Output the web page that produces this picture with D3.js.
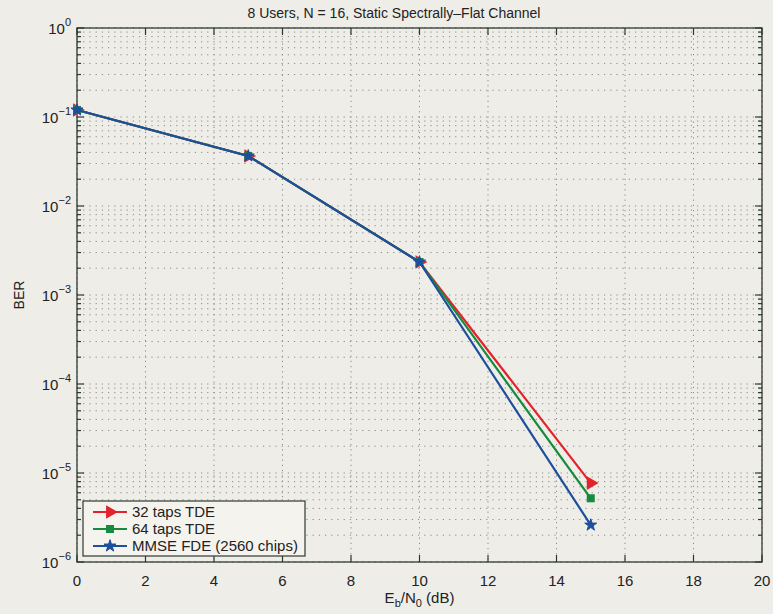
<!DOCTYPE html>
<meta charset="utf-8">
<style>
body { margin: 0; background: #efede8; }
svg { font-family: "Liberation Sans", Arial, sans-serif; }
.grid line { stroke: #8a8a8a; stroke-width: 1; stroke-dasharray: 1.2,5; }
</style>
<body>
<svg width="773" height="614"></svg>
<script src="https://d3js.org/d3.v7.min.js"></script>
<script>
// data
var ebno = [0, 5, 10, 15];
var ber32 = [0.12, 0.0365, 0.00235, 7.7e-6];
var ber64 = [0.12, 0.0365, 0.00235, 5.2e-6];
var berFde = [0.12, 0.0365, 0.00235, 2.6e-6];
var xTicks = [0, 2, 4, 6, 8, 10, 12, 14, 16, 18, 20];
var yExps = [0, -1, -2, -3, -4, -5, -6];

var series = [
  {name: "32 taps TDE", values: ber32, color: "#e3232b", marker: "tri"},
  {name: "64 taps TDE", values: ber64, color: "#168a3e", marker: "sq"},
  {name: "MMSE FDE (2560 chips)", values: berFde, color: "#1d4f9c", marker: "star"}
];

var svg = d3.select("svg"),
    margin = {top: 28, right: 11, bottom: 52, left: 77},
    width = +svg.attr("width") - margin.left - margin.right,
    height = +svg.attr("height") - margin.top - margin.bottom;

var x = d3.scaleLinear().domain([0, 20]).range([0, width]),
    y = d3.scaleLog().domain([1e-6, 1]).range([height, 0]);

var g = svg.append("g")
    .attr("transform", "translate(" + margin.left + "," + margin.top + ")");

// minor log positions
var minor = [];
yExps.slice(0, -1).forEach(function(e) {
  for (var k = 1; k <= 9; k++) minor.push(k * Math.pow(10, e - 1));
});
minor.push(1);

// grid
var grid = g.append("g").attr("class", "grid");
grid.selectAll(".gy").data(minor).enter().append("line")
    .attr("x1", 0).attr("x2", width)
    .attr("y1", function(d) { return y(d); })
    .attr("y2", function(d) { return y(d); });
grid.selectAll(".gx").data(xTicks).enter().append("line")
    .attr("y1", 0).attr("y2", height)
    .attr("x1", function(d) { return x(d); })
    .attr("x2", function(d) { return x(d); })
    .style("stroke-dasharray", "1.2,4");

// frame
g.append("rect").attr("width", width).attr("height", height)
    .attr("fill", "none").attr("stroke", "#2b3a30").attr("stroke-width", 1.3);

// ticks inward
var tk = g.append("g").attr("stroke", "#2b3a30").attr("stroke-width", 1.2);
xTicks.forEach(function(d) {
  tk.append("line").attr("x1", x(d)).attr("x2", x(d)).attr("y1", height).attr("y2", height - 7);
  tk.append("line").attr("x1", x(d)).attr("x2", x(d)).attr("y1", 0).attr("y2", 7);
});
minor.forEach(function(d) {
  var isMajor = Math.abs(Math.log10(d) - Math.round(Math.log10(d))) < 1e-9;
  var len = isMajor ? 7 : 4;
  tk.append("line").attr("x1", 0).attr("x2", len).attr("y1", y(d)).attr("y2", y(d));
  tk.append("line").attr("x1", width).attr("x2", width - len).attr("y1", y(d)).attr("y2", y(d));
});

// x tick labels
g.append("g").selectAll("text").data(xTicks).enter().append("text")
    .attr("x", function(d) { return x(d); })
    .attr("y", height + 24)
    .attr("text-anchor", "middle")
    .style("font-size", "15px").attr("fill", "#222")
    .text(function(d) { return d; });

// y tick labels 10^e
var yl = g.append("g").selectAll("text").data(yExps).enter().append("text")
    .attr("x", -6)
    .attr("y", function(d) { return y(Math.pow(10, d)) + 6; })
    .attr("text-anchor", "end")
    .style("font-size", "15px").attr("fill", "#222");
yl.append("tspan").text("10");
yl.append("tspan").attr("dy", -8).style("font-size", "11px")
    .text(function(d) { return d === 0 ? "0" : "\u2212" + (-d); });

// lines
var line = d3.line()
    .x(function(d, i) { return x(ebno[i]); })
    .y(function(d) { return y(d); });

function marker(sel, type, color) {
  if (type === "tri") {
    sel.append("path").attr("d", d3.symbol(d3.symbolTriangle, 80)())
      .attr("transform", "rotate(90)").attr("fill", color);
  } else if (type === "sq") {
    sel.append("path").attr("d", d3.symbol(d3.symbolSquare, 64)()).attr("fill", color);
  } else {
    sel.append("path").attr("d", d3.symbol(d3.symbolStar, 45)()).attr("fill", color)
      .attr("stroke", color).attr("stroke-width", 1);
  }
}

series.forEach(function(s) {
  g.append("path").datum(s.values)
      .attr("fill", "none").attr("stroke", s.color).attr("stroke-width", 2.2)
      .attr("d", line);
  s.values.forEach(function(v, i) {
    var m = g.append("g").attr("transform", "translate(" + x(ebno[i]) + "," + y(v) + ")");
    marker(m, s.marker, s.color);
  });
});

// legend
var lg = g.append("g").attr("transform", "translate(6," + (height - 61) + ")");
lg.append("rect").attr("width", 222).attr("height", 55)
    .attr("fill", "#f5f3ee").attr("stroke", "#2b3a30").attr("stroke-width", 1.2);
series.forEach(function(s, i) {
  var ly = 11 + i * 17;
  lg.append("line").attr("x1", 10).attr("x2", 44).attr("y1", ly).attr("y2", ly)
      .attr("stroke", s.color).attr("stroke-width", 2.2);
  var m = lg.append("g").attr("transform", "translate(27," + ly + ")");
  marker(m, s.marker, s.color);
  lg.append("text").attr("x", 49).attr("y", ly + 5)
      .style("font-size", "15px").attr("fill", "#222").text(s.name);
});

// titles
svg.append("text").attr("x", 394).attr("y", 18)
    .attr("text-anchor", "middle").style("font-size", "14px").attr("fill", "#222")
    .text("8 Users, N = 16, Static Spectrally\u2013Flat Channel");

var xl = svg.append("text").attr("x", margin.left + width / 2).attr("y", 603)
    .attr("text-anchor", "middle").style("font-size", "15px").attr("fill", "#222");
xl.append("tspan").text("E");
xl.append("tspan").attr("dy", 4).style("font-size", "11px").text("b");
xl.append("tspan").attr("dy", -4).text("/N");
xl.append("tspan").attr("dy", 4).style("font-size", "11px").text("0");
xl.append("tspan").attr("dy", -4).text(" (dB)");

svg.append("text")
    .attr("transform", "translate(24," + (margin.top + height / 2) + ") rotate(-90)")
    .attr("text-anchor", "middle").style("font-size", "14px").attr("fill", "#222")
    .text("BER");
</script>
</body>
